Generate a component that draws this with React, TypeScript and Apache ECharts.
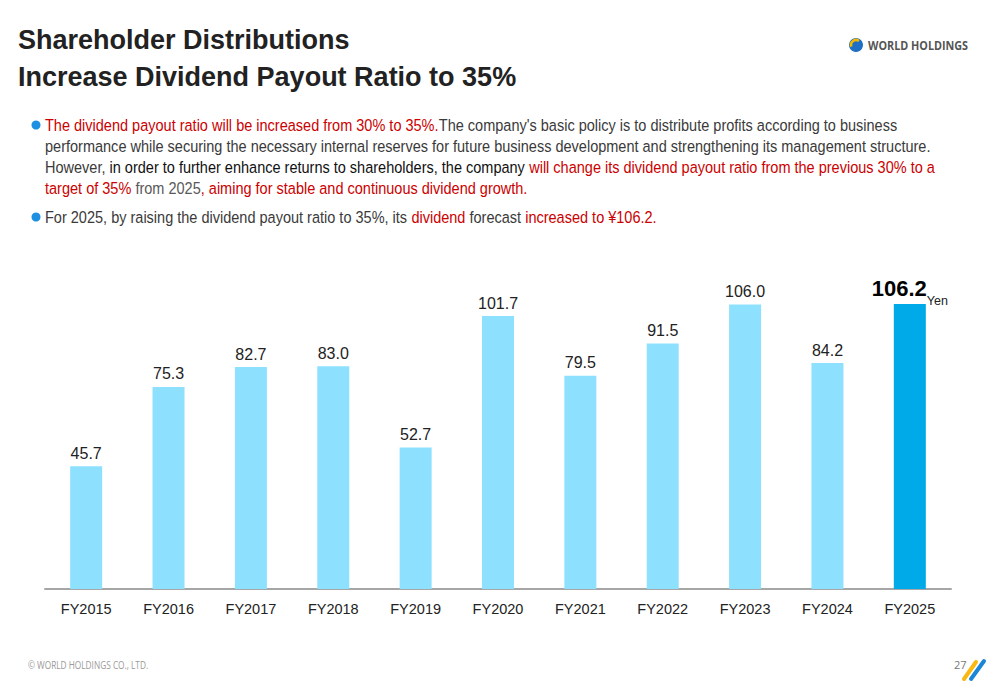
import React, { useEffect, useRef } from "react";
import * as echarts from "echarts";

const categories = ["FY2015", "FY2016", "FY2017", "FY2018", "FY2019", "FY2020", "FY2021", "FY2022", "FY2023", "FY2024", "FY2025"];
const dividends = [45.7, 75.3, 82.7, 83.0, 52.7, 101.7, 79.5, 91.5, 106.0, 84.2, 106.2];

const FONT = '"Liberation Sans", Arial, sans-serif';
const RED = "#CC0000";
const DARK = "#3a3a3a";
const BODY_SCALE = 0.854;

export default function App() {
  const ref = useRef<HTMLDivElement>(null);
  useEffect(() => {
    if (!ref.current) return;
    const chart = echarts.init(ref.current, undefined, { renderer: "svg" });
    const last = dividends.length - 1;
    const richBody = {
      r: { fill: RED, fontSize: 17, fontFamily: FONT },
      k: { fill: DARK, fontSize: 17, fontFamily: FONT },
      b: { fill: "#111", fontSize: 17, fontFamily: FONT },
      g: { fill: "#595959", fontSize: 17, fontFamily: FONT },
    };
    const line = (y: number, text: string) => ({
      type: "text",
      x: 45,
      y,
      scaleX: BODY_SCALE,
      style: { text, rich: richBody, font: `17px ${FONT}`, verticalAlign: "middle", align: "left" },
    });
    chart.setOption({
      animation: false,
      backgroundColor: "#ffffff",
      grid: { left: 45, right: 49, top: 267, bottom: 96 },
      xAxis: {
        type: "category",
        data: categories,
        axisLine: { lineStyle: { color: "#A6A6A6", width: 2 } },
        axisTick: { show: false },
        axisLabel: { fontSize: 14.5, color: "#222", fontFamily: FONT, margin: 12 },
      },
      yAxis: { type: "value", min: 0, max: 120, show: false, splitLine: { show: false } },
      series: [
        {
          type: "bar",
          barWidth: 32,
          data: dividends.map((v, i) => ({
            value: v,
            itemStyle: { color: i === last ? "#00A9E8" : "#8EE0FF" },
            label:
              i === last
                ? {
                    show: true,
                    position: "top",
                    distance: 5,
                    formatter: "{v|" + v.toFixed(1) + "}{u|Yen}",
                    rich: {
                      v: { fontSize: 22, fontWeight: "bold", color: "#000", fontFamily: FONT, verticalAlign: "bottom" },
                      u: { fontSize: 12.5, color: "#222", fontFamily: FONT, verticalAlign: "bottom", padding: [0, 0, -8, 0] },
                    },
                  }
                : {
                    show: true,
                    position: "top",
                    distance: 5,
                    formatter: v.toFixed(1),
                    fontSize: 16,
                    color: "#222",
                    fontFamily: FONT,
                  },
          })),
        },
      ],
      graphic: [
        { type: "text", x: 18, y: 40, style: { text: "Shareholder Distributions", font: `bold 27px ${FONT}`, fill: "#222", verticalAlign: "middle" } },
        { type: "text", x: 18, y: 77, style: { text: "Increase Dividend Payout Ratio to 35%", font: `bold 27px ${FONT}`, fill: "#222", verticalAlign: "middle" } },
        { type: "circle", shape: { cx: 36, cy: 125, r: 4.5 }, style: { fill: "#1E8FE1" } },
        line(125, "{r|The dividend payout ratio will be increased from 30% to 35%.}{k|The company's basic policy is to distribute profits according to business}"),
        line(146, "{k|performance while securing the necessary internal reserves for future business development and strengthening its management structure.}"),
        line(167, "{k|However, }{b|in order to further enhance returns to shareholders, the company }{r|will change its dividend payout ratio from the previous 30% to a}"),
        line(188, "{r|target of 35%}{g| from 2025}{r|, aiming for stable and continuous dividend growth.}"),
        { type: "circle", shape: { cx: 36, cy: 217, r: 4.5 }, style: { fill: "#1E8FE1" } },
        line(217, "{k|For 2025, by raising the dividend payout ratio to 35%, its }{r|dividend}{k| forecast }{r|increased to ¥106.2.}"),
        // logo
        { type: "circle", shape: { cx: 856, cy: 45, r: 7 }, style: { fill: "#1F6FC5" } },
        { type: "arc", shape: { cx: 856, cy: 45, r: 5, startAngle: Math.PI * 0.9, endAngle: Math.PI * 1.7 }, style: { stroke: "#F5B800", lineWidth: 2.5, fill: "none" } },
        { type: "text", x: 868, y: 45, scaleX: 0.9, style: { text: "WORLD HOLDINGS", font: 'bold 12px "Open Sans", sans-serif', fill: "#555", verticalAlign: "middle" } },
        // footer
        { type: "text", x: 28, y: 665, scaleX: 0.83, style: { text: "© WORLD HOLDINGS CO., LTD.", font: '10px "Open Sans", sans-serif', fill: "#9a9a9a", verticalAlign: "middle" } },
        { type: "text", x: 954, y: 664, style: { text: "27", font: '11px "Open Sans", sans-serif', fill: "#777", verticalAlign: "middle" } },
        { type: "line", shape: { x1: 964, y1: 679, x2: 976, y2: 662 }, style: { stroke: "#F9B912", lineWidth: 4, lineCap: "round" } },
        { type: "line", shape: { x1: 971, y1: 679, x2: 984, y2: 661 }, style: { stroke: "#1B86D6", lineWidth: 4, lineCap: "round" } },
      ],
    });
    return () => chart.dispose();
  }, []);
  return <div ref={ref} style={{ position: "absolute", left: 0, top: 0, width: 1000, height: 685 }} />;
}
